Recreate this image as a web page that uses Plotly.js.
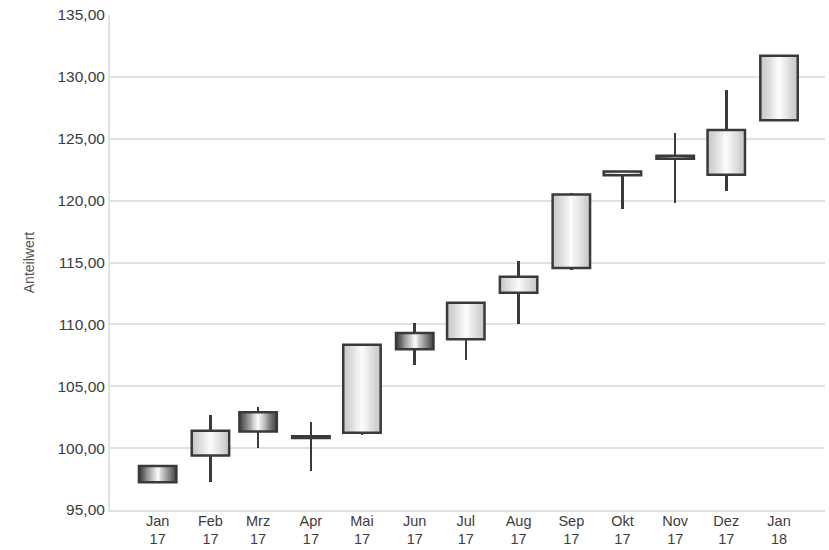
<!DOCTYPE html>
<html>
<head>
<meta charset="utf-8">
<script src="https://cdn.plot.ly/plotly-3.0.1.min.js"></script>
<style>html,body{margin:0;padding:0;background:#fff}#chart{width:829px;height:550px}</style>
</head>
<body>
<div id="chart"></div>
<script>
// ---- data ----
const months = ['2017-01-01','2017-02-01','2017-03-01','2017-04-01','2017-05-01','2017-06-01','2017-07-01','2017-08-01','2017-09-01','2017-10-01','2017-11-01','2017-12-01','2018-01-01'];
const monthLabels = ['Jan','Feb','Mrz','Apr','Mai','Jun','Jul','Aug','Sep','Okt','Nov','Dez','Jan'];
const yearLabels = ['17','17','17','17','17','17','17','17','17','17','17','17','18'];
const openV  = [98.55, 99.4, 102.9, 100.95, 101.25, 109.3, 108.8, 112.55, 114.55, 122.05, 123.62, 122.1, 126.5];
const closeV = [97.25, 101.4, 101.35, 100.82, 108.35, 108.0, 111.75, 113.85, 120.5, 122.35, 123.38, 125.7, 131.7];
const highV  = [98.55, 102.65, 103.35, 102.1, 108.35, 110.15, 111.75, 115.15, 120.6, 122.35, 125.45, 128.9, 131.7];
const lowV   = [97.25, 97.3, 100.0, 98.15, 101.05, 106.75, 107.15, 110.0, 114.4, 119.3, 119.8, 120.75, 126.5];
const yTitle = 'Anteilwert';

// ---- styling ----
const DAY = 86400000;
const bodyWidth = 22 * DAY;
const wickWidth = 1.5 * DAY;
const lineCol = '#3a3a3a';
const edgeInc = [196,196,196], edgeDec = [58,58,58], center = [252,252,252];
const N = 20;
const xRange = ['2016-12-04', '2018-01-28'];

function lerp(a, b, t) {
  return 'rgb(' + a.map((v, i) => Math.round(v + (b[i] - v) * t)).join(',') + ')';
}

const isInc = openV.map((o, i) => closeV[i] >= o);
const bodyBase = openV.map((o, i) => Math.min(o, closeV[i]));
const bodyH = openV.map((o, i) => Math.abs(closeV[i] - o));

const traces = [];
// wicks
traces.push({
  type: 'bar', x: months, base: lowV, y: highV.map((h, i) => h - lowV[i]),
  width: wickWidth, marker: {color: lineCol, line: {width: 0}},
  hoverinfo: 'skip', showlegend: false
});
// gradient body layers
for (let k = 0; k < N; k++) {
  const f = 1 - (k + 0.5) / N;
  traces.push({
    type: 'bar', x: months, base: bodyBase, y: bodyH,
    width: bodyWidth * (1 - k / N),
    marker: {color: isInc.map(inc => lerp(center, inc ? edgeInc : edgeDec, f)), line: {width: 0}},
    hoverinfo: 'skip', showlegend: false
  });
}
// outline
traces.push({
  type: 'bar', x: months, base: bodyBase, y: bodyH,
  width: bodyWidth,
  marker: {color: 'rgba(0,0,0,0)', line: {color: lineCol, width: 2.5}},
  hoverinfo: 'skip', showlegend: false
});
// invisible trace to carry the year axis
traces.push({
  type: 'scatter', mode: 'markers', x: months, y: openV, xaxis: 'x2',
  marker: {opacity: 0}, hoverinfo: 'skip', showlegend: false
});

const ff = 'Liberation Sans, Arial, sans-serif';
const font = {family: ff, size: 14.5, color: '#3c3c3c'};
const yfont = {family: ff, size: 15.5, color: '#3c3c3c'};
const layout = {
  width: 829, height: 550,
  margin: {l: 110, r: 4, t: 15, b: 40},
  paper_bgcolor: '#fff', plot_bgcolor: '#fff',
  barmode: 'overlay', bargap: 0,
  separators: ',.',
  showlegend: false,
  font: font,
  xaxis: {
    type: 'date', range: xRange,
    tickmode: 'array', tickvals: months, ticktext: monthLabels,
    showgrid: false, zeroline: false,
    showline: true, linecolor: '#e2e2e2', linewidth: 2,
    ticks: '', tickfont: font, ticklabelstandoff: -3, fixedrange: true
  },
  xaxis2: {
    type: 'date', range: xRange, overlaying: 'x', side: 'bottom', anchor: 'y',
    tickmode: 'array', tickvals: months, ticktext: yearLabels,
    showgrid: false, zeroline: false, showline: false,
    ticks: '', tickfont: font, ticklabelstandoff: 18, fixedrange: true
  },
  yaxis: {
    range: [95, 135], dtick: 5, tick0: 95, tickformat: '.2f',
    showgrid: true, gridcolor: '#e2e2e2', gridwidth: 2,
    zeroline: false, showline: true, linecolor: '#e2e2e2', linewidth: 2,
    ticks: '', tickfont: yfont,
    title: {text: yTitle, font: {family: ff, size: 14, color: '#555'}, standoff: 20},
    fixedrange: true
  }
};
Plotly.newPlot('chart', traces, layout, {staticPlot: true, displayModeBar: false});
</script>
</body>
</html>
